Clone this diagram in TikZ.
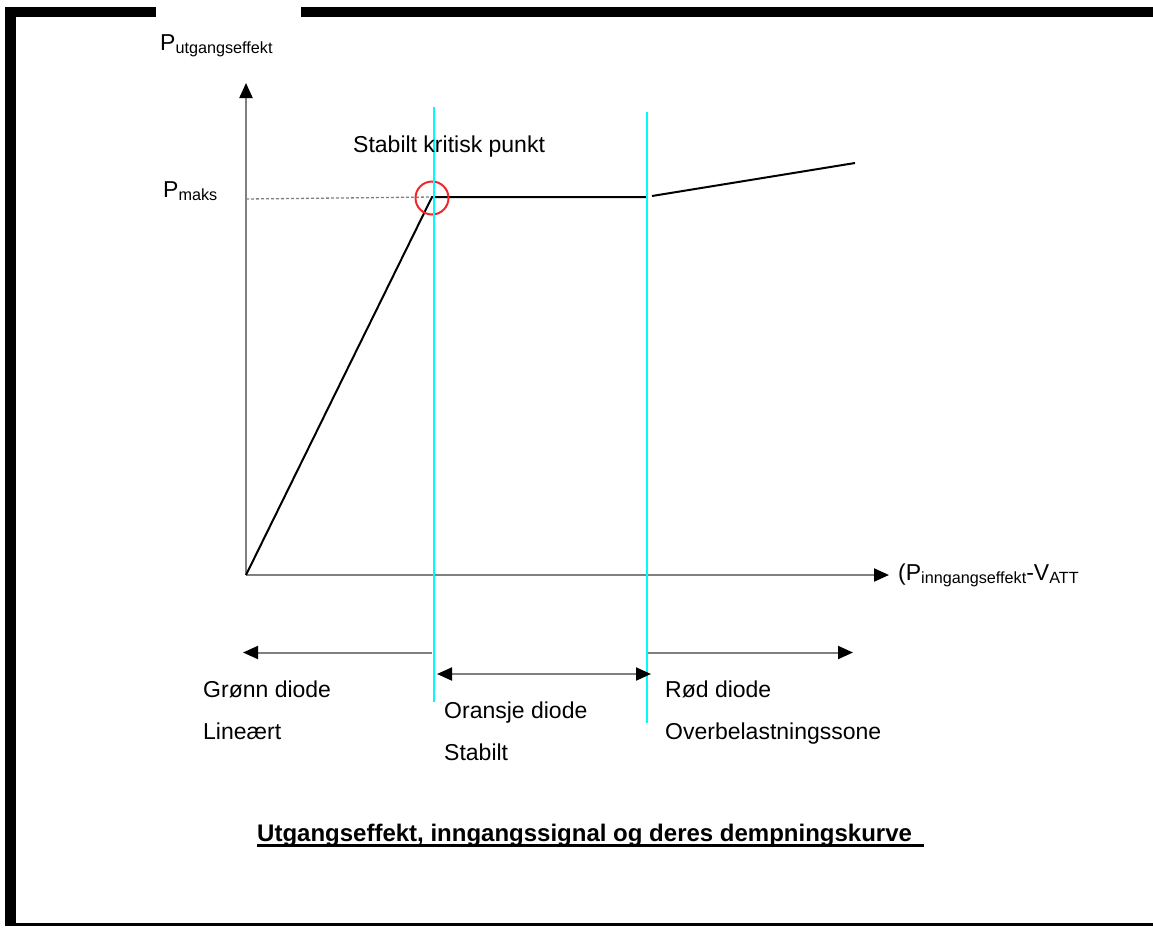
\documentclass[tikz,border=0pt]{standalone}
\usepackage{fontspec}
\setmainfont{Liberation Sans}
\usetikzlibrary{arrows.meta}
\definecolor{axisgray}{RGB}{128,128,128}
\definecolor{lightcyan}{RGB}{0,250,255}
\definecolor{critred}{RGB}{240,40,40}
\newcommand\mysub[1]{\raisebox{-3.5pt}{\fontsize{16.2}{17}\selectfont #1}}
\begin{document}
\begin{tikzpicture}[x=1pt,y=-1pt,
  lbl/.style={anchor=base west, inner sep=0pt, font=\fontsize{23}{27}\selectfont},
  tip/.style={-{Triangle[length=15pt,width=13pt,color=black,fill=black]}},
  axisline/.style={draw=axisgray, line width=2pt},
  curveline/.style={draw=black, line width=2pt},
  cyanline/.style={draw=lightcyan, line width=2pt},
  frame/.style={fill=black}]
\useasboundingbox (0,0) rectangle (1153,927);
% frame
\fill[frame] (5,7) rectangle (156,17);
\fill[frame] (301,7) rectangle (1153,17);
\fill[frame] (5,7) rectangle (16,926);
\fill[frame] (5,923) rectangle (1153,926);
% axes
\coordinate (O) at (246,575);
\coordinate (ytop) at (246,83);
\coordinate (xend) at (889,575);
\draw[axisline, tip] (O) -- (ytop);
\draw[axisline, tip] (O) -- (xend);
\node[lbl] (ylab) at (160,50) {P\mysub{utgangseffekt}};
\node[lbl] (xlab) at (898,580) {(P\mysub{inngangseffekt}-V\mysub{ATT}};
\node[lbl] (pmaks) at (163,197) {P\mysub{maks}};
% curve
\coordinate (ym) at (246,199);
\coordinate (peak) at (432,197);
\coordinate (flatend) at (647,197);
\coordinate (risestart) at (652,196);
\coordinate (riseend) at (855,163);
\draw[axisgray, line width=1.3pt, dash pattern=on 3pt off 2pt] (ym) -- (peak);
\draw[curveline] (O) -- (peak) -- (flatend);
\draw[curveline] (risestart) -- (riseend);
\node[circle, draw=critred, line width=2pt, minimum size=33pt, inner sep=0pt] (crit) at (432,198) {};
% cyan boundaries
\coordinate (c1top) at (434,107);
\coordinate (c1bot) at (434,702);
\coordinate (c2top) at (647,112);
\coordinate (c2bot) at (647,723);
\draw[cyanline] (c1top) -- (c1bot);
\draw[cyanline] (c2top) -- (c2bot);
\node[lbl] (critlab) at (353,152) {Stabilt kritisk punkt};
% zone arrows
\coordinate (a1s) at (432,652.5);
\coordinate (a1e) at (243,652.5);
\coordinate (a2s) at (437,674);
\coordinate (a2e) at (651,674);
\coordinate (a3s) at (648,652.5);
\coordinate (a3e) at (853,652.5);
\draw[axisline, tip] (a1s) -- (a1e);
\draw[axisline, {Triangle[length=15pt,width=13pt,color=black,fill=black]}-{Triangle[length=15pt,width=13pt,color=black,fill=black]}] (a2s) -- (a2e);
\draw[axisline, tip] (a3s) -- (a3e);
% zone labels
\node[lbl] (g1) at (203,697) {Grønn diode};
\node[lbl] (g2) at (203,739) {Lineært};
\node[lbl] (o1) at (444,718) {Oransje diode};
\node[lbl] (o2) at (444,760) {Stabilt};
\node[lbl] (r1) at (665,697) {Rød diode};
\node[lbl] (r2) at (665,739) {Overbelastningssone};
% caption
\node[anchor=base west, inner sep=0pt, font=\bfseries\fontsize{24}{28}\selectfont] (cap) at (257,841) {Utgangseffekt, inngangssignal og deres dempningskurve};
\coordinate (ulend) at (924,845.5);
\draw[line width=3pt] (cap.base west |- ulend) -- (ulend);
\end{tikzpicture}
\end{document}
